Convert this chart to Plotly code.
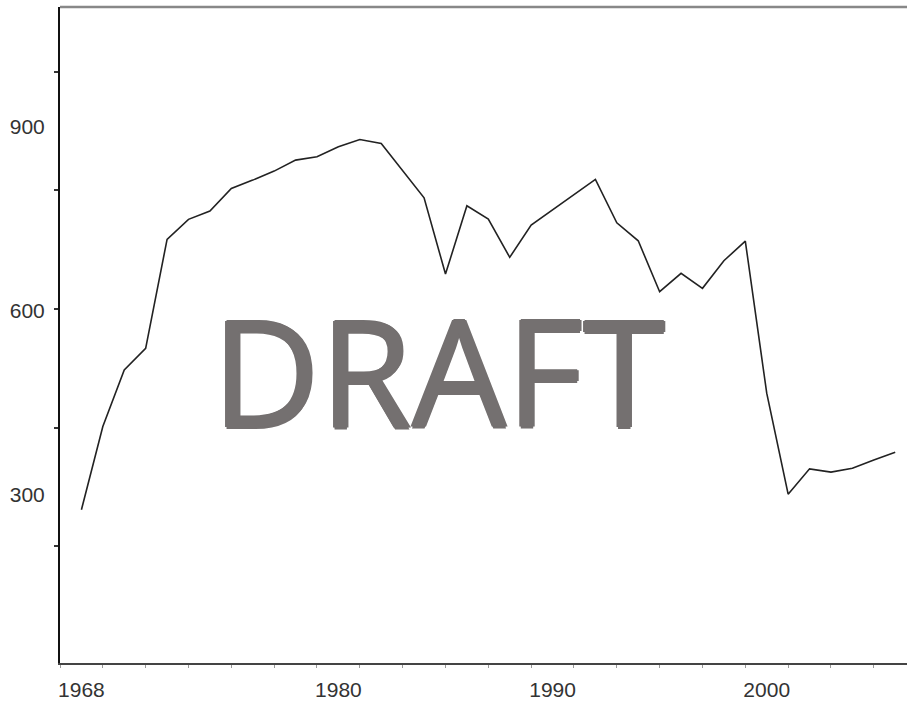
import plotly.graph_objects as go

years = list(range(1968, 2007))
values = [275.6, 411.3, 503.7, 539.0, 716.6, 749.2, 762.7, 799.7, 813.2, 827.9,
          845.8, 851.2, 867.5, 879.5, 873.0, 829.5, 784.4, 660.0, 771.3, 749.7,
          687.3, 739.9, 764.3, 788.8, 814.3, 743.6, 714.3, 631.2, 661.2, 636.8,
          681.7, 713.8, 465.7, 301.1, 342.4, 337.0, 343.5, 357.0, 369.6]

x_tick_vals = [1968, 1980, 1990, 2000]
x_tick_text = ["1968", "1980", "1990", "2000"]
y_tick_vals = [300, 600, 900]
y_tick_text = ["300", "600", "900"]

fig = go.Figure()
fig.add_trace(go.Scatter(x=years, y=values, mode="lines",
                         line=dict(color="#222222", width=1.6),
                         hoverinfo="x+y", showlegend=False))

fig.update_layout(
    width=907, height=704, autosize=False,
    margin=dict(l=60, r=0, t=7, b=41),
    paper_bgcolor="white", plot_bgcolor="white",
    font=dict(family="Liberation Sans, Arial, sans-serif", size=21, color="#333333"),
    xaxis=dict(range=[1967, 2006.55], tickvals=x_tick_vals, ticktext=x_tick_text,
               showgrid=False, zeroline=False, showline=True, linecolor="#444444",
               linewidth=2, ticks="", ticklabelstandoff=7,
               minor=dict(ticks="outside", tick0=1967, dtick=2, ticklen=3,
                          tickcolor="#999999", tickwidth=1)),
    yaxis=dict(range=[25.8, 1095.5], tickvals=y_tick_vals, ticktext=y_tick_text,
               showgrid=False, zeroline=False, showline=True, linecolor="#111111",
               linewidth=2, ticks="", ticklabelstandoff=9,
               minor=dict(ticks="outside", tick0=22.3, dtick=193.5, ticklen=4,
                          tickcolor="#333333", tickwidth=1.5)),
)

fig.add_shape(type="line", xref="paper", yref="paper", x0=0, x1=1, y0=1, y1=1,
              line=dict(color="#888888", width=2.5))

c = "#747070"
shadow = f"1.5px 0 0 {c}, -1.5px 0 0 {c}, 0 1.5px 0 {c}, 0 -1.5px 0 {c}"

fig.add_annotation(text="DRAFT", xref="paper", yref="paper",
                   x=(438 - 60) / 847, y=(663.3 - 370) / 656.6,
                   xanchor="center", yanchor="middle", showarrow=False,
                   font=dict(family="Open Sans", size=149, color=c, shadow=shadow))

post = ("document.documentElement.style.margin='0';"
        "document.body.style.margin='0';document.body.style.overflow='hidden';"
        "var gd=document.getElementById('{plot_id}');"
        "Plotly.relayout(gd,{width:907,height:704});")

fig.write_html("out.html", post_script=post, config={"displayModeBar": False})
